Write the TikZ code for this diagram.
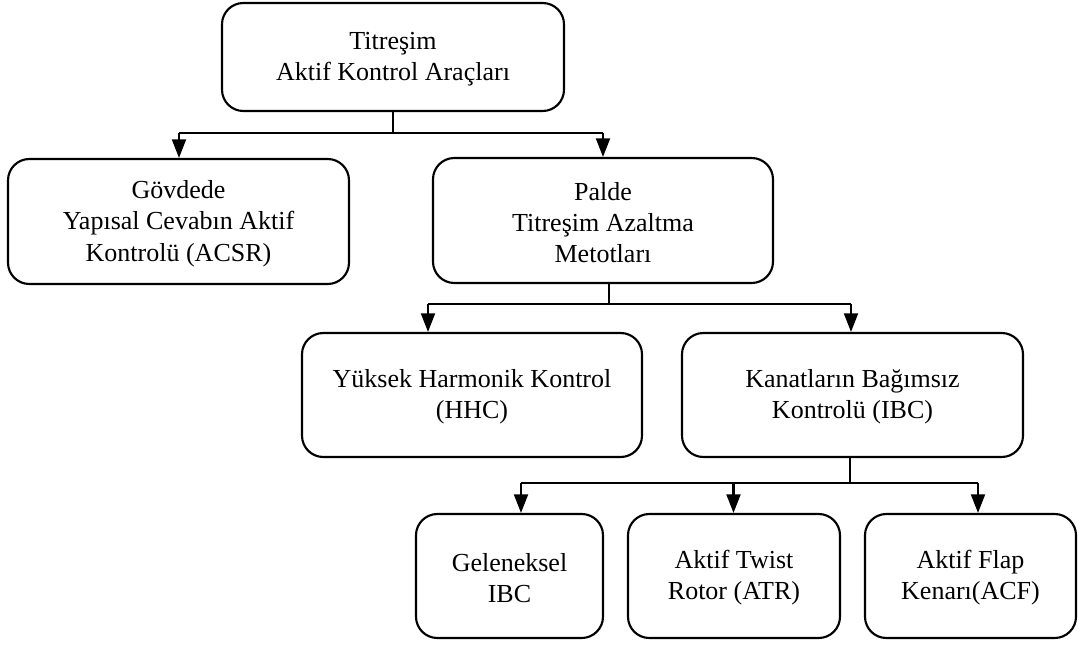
\documentclass[tikz,border=0pt]{standalone}
\usepackage{fontspec}
\setmainfont{Liberation Serif}
\usetikzlibrary{arrows.meta}
\tikzset{
  box/.style n args={2}{draw, line width=1.6pt, rounded corners=16pt, rectangle,
    minimum width=#1*0.75pt, minimum height=#2*0.75pt, inner sep=0pt, align=center,
    font=\fontsize{19.5pt}{23.5pt}\selectfont},
  link/.style={line width=1.6pt},
  arr/.style={line width=1.6pt, -{Triangle[width=10.5pt,length=14pt]}}
}
\begin{document}
\begin{tikzpicture}[x=0.75pt,y=-0.75pt]
\useasboundingbox (0,0) rectangle (1078,646);
% nodes
\node[box={342}{108}] (top) at (393,57) {\strut Titreşim\\Aktif Kontrol Araçları};
\node[box={341}{125}] (gov) at (178.5,221.5) {\strut Gövdede\\Yapısal Cevabın Aktif\\Kontrolü (ACSR)};
\node[box={340}{125}] (palde) at (603,220.5) {\strut Palde\\Titreşim Azaltma\\Metotları};
\node[box={340}{124}] (yuk) at (472,395) {\strut Yüksek Harmonik Kontrol\\(HHC)};
\node[box={341}{124}] (kan) at (852.5,395) {\strut Kanatların Bağımsız\\Kontrolü (IBC)};
\node[box={187}{124}] (gel) at (509.5,576) {\strut Geleneksel\\IBC};
\node[box={212}{124}] (twist) at (734,576) {\strut Aktif Twist\\Rotor (ATR)};
\node[box={211}{124}] (flap) at (970.5,576) {\strut Aktif Flap\\Kenarı(ACF)};
% bus coordinates
\coordinate (b1) at (393,133);
\coordinate (b1l) at (179,133);
\coordinate (b1r) at (603,133);
\coordinate (b2) at (609,304);
\coordinate (b2l) at (428,304);
\coordinate (b2r) at (851,304);
\coordinate (b3) at (850,483);
\coordinate (b3l) at (521,483);
\coordinate (b3m) at (733.5,483);
\coordinate (b3r) at (978,483);
% level 1
\draw[link] (top.south) -- (b1);
\draw[link] (b1l) -- (b1r);
\draw[arr] (b1l) -- (b1l |- gov.north);
\draw[arr] (b1r) -- (b1r |- palde.north);
% level 2
\draw[link] (b2 |- palde.south) -- (b2);
\draw[link] (b2l) -- (b2r);
\draw[arr] (b2l) -- (b2l |- yuk.north);
\draw[arr] (b2r) -- (b2r |- kan.north);
% level 3
\draw[link] (b3 |- kan.south) -- (b3);
\draw[link] (b3l) -- (b3r);
\draw[arr] (b3l) -- (b3l |- gel.north);
\draw[arr] (b3m) -- (b3m |- twist.north);
\draw[arr] (b3r) -- (b3r |- flap.north);
\end{tikzpicture}
\end{document}
